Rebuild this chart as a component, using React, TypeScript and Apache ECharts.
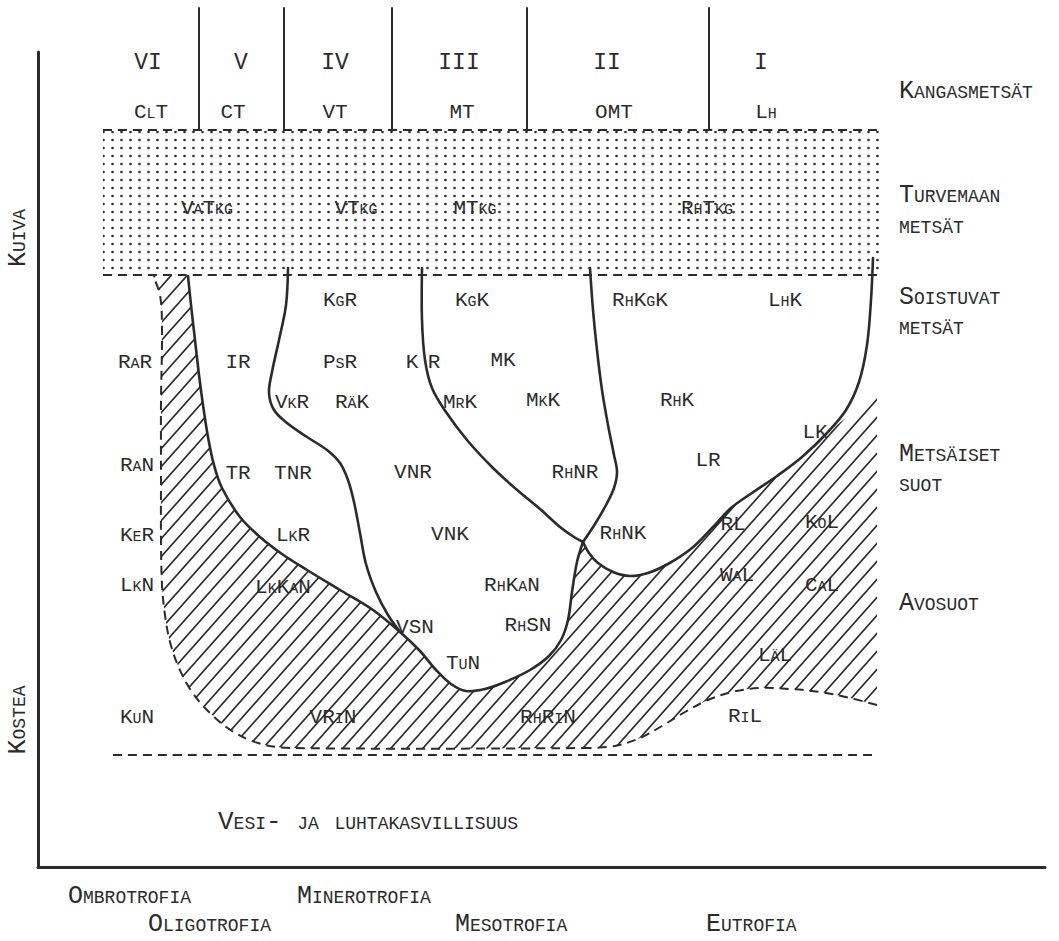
import React, { useEffect, useRef } from "react";
import * as echarts from "echarts";

type Pt = [number, number];
type Label = [string, number, number];

// ---- frame (axis extents, in drawing units) ----
const X_RANGE: Pt = [38, 1045];
const Y_RANGE: Pt = [52, 867];

// ---- forest site type columns ----
const columnDividers: number[] = [199, 284, 392, 527, 709];
const columnSpan: Pt = [8, 129];

// ---- labels ----
const romanNumerals: Label[] = [
  ["VI", 148, 63], ["V", 241, 63], ["IV", 335, 63], ["III", 459, 63], ["II", 607, 63], ["I", 761, 63],
];
const forestTypes: Label[] = [
  ["ClT", 151, 112], ["CT", 233, 112], ["VT", 335, 112], ["MT", 462, 112], ["OMT", 614, 112], ["Lh", 766, 112],
];
const peatForestTypes: Label[] = [
  ["VaTkg", 207, 208], ["VTkg", 356, 208], ["MTkg", 475, 208], ["RhTkg", 707, 208],
];
const mireTypes: Label[] = [
  ["KgR", 340, 300], ["KgK", 472, 300], ["RhKgK", 640, 300], ["LhK", 785, 300],
  ["RaR", 135, 362], ["IR", 238, 362], ["PsR", 340, 362], ["K", 412, 362], ["R", 434, 362], ["MK", 503, 360],
  ["VkR", 292, 402], ["RäK", 352, 402], ["MrK", 460, 402], ["MkK", 543, 400], ["RhK", 677, 400],
  ["LK", 815, 432], ["LR", 708, 460],
  ["RaN", 137, 465], ["TR", 238, 473], ["TNR", 293, 473], ["VNR", 413, 472], ["RhNR", 575, 472],
  ["KeR", 137, 535], ["LkR", 293, 535], ["VNK", 450, 534], ["RhNK", 623, 533], ["RL", 733, 524], ["KoL", 822, 522],
  ["LkN", 137, 585], ["LkKaN", 283, 587], ["RhKaN", 512, 585], ["WaL", 737, 575], ["CaL", 822, 585],
  ["VSN", 415, 627], ["RhSN", 528, 625],
  ["TuN", 463, 663], ["LäL", 775, 655],
  ["KuN", 137, 717], ["VRiN", 333, 717], ["RhRiN", 548, 717], ["RiL", 745, 716],
];
const zoneLabels: Label[] = [
  ["Kangasmetsät", 899, 91],
  ["Turvemaan", 899, 195], ["metsät", 899, 226],
  ["Soistuvat", 899, 297], ["metsät", 899, 327],
  ["Metsäiset", 899, 454], ["suot", 899, 484],
  ["Avosuot", 899, 603],
];
const trophyLabels: Label[] = [
  ["Ombrotrofia", 68, 896], ["Minerotrofia", 297, 896],
  ["Oligotrofia", 148, 924], ["Mesotrofia", 455, 924], ["Eutrofia", 706, 924],
];
const moistureLabels: Label[] = [["Kuiva", 18, 238], ["Kostea", 18, 720]];
const waterLabels: Label[] = [["Vesi- ja luhtakasvillisuus", 218, 822]];

// ---- boundaries ----
const dottedBand: Pt[] = [[103, 131], [879, 131], [879, 275], [103, 275]];
const bandTopLine: Pt[] = [[103, 130], [877, 130]];
const bandBottomLine: Pt[] = [[103, 275], [877, 275]];
const waterLine: Pt[] = [[113, 755], [877, 755]];

const mainBoundary: Pt[] = [
  [188, 276], [191, 305], [195, 340], [199, 375], [203, 405], [208, 437], [214, 465], [222, 488],
  [240, 517], [260, 537], [282, 554], [307, 570], [340, 590], [373, 610], [400, 632], [420, 651],
  [436, 670], [451, 684], [466, 691], [485, 689], [505, 682], [530, 670], [549, 656], [561, 640],
  [568, 620], [572, 592], [577, 562], [583, 542],
];
const lhkLower: Pt[] = [
  [583, 542], [589, 553], [598, 563], [613, 572], [630, 576], [648, 573], [668, 564], [692, 548],
  [713, 527], [731, 508], [752, 493], [777, 476], [802, 457], [827, 433],
];
const lhkUpper: Pt[] = [[827, 433], [846, 410], [859, 382], [867, 345], [871, 300], [873, 258]];
const vkrLine: Pt[] = [
  [288, 268], [286, 305], [279, 340], [272, 372], [269, 393], [274, 410], [287, 423], [307, 437],
  [327, 450], [340, 463], [348, 480], [354, 502], [360, 533], [366, 564], [376, 592], [388, 615], [400, 632],
];
const kgkLine: Pt[] = [
  [422, 268], [422, 320], [425, 360], [432, 388], [446, 412], [467, 440], [492, 467], [516, 489],
  [540, 509], [560, 527], [574, 537], [583, 542],
];
const rhkgkLine: Pt[] = [
  [590, 268], [593, 310], [597, 350], [602, 390], [608, 425], [614, 455], [617, 472], [614, 488],
  [606, 505], [595, 524], [583, 542],
];
const rilCurve: Pt[] = [
  [877, 705], [850, 698], [820, 692], [790, 689], [760, 688], [732, 692], [708, 700], [685, 712],
  [662, 726], [640, 738], [615, 746], [590, 748],
];
const leftBoundary: Pt[] = [
  [590, 748], [290, 748], [258, 743], [232, 731], [210, 713], [192, 692], [179, 668], [170, 642],
  [165, 615], [162, 585], [161, 540], [161, 470], [161, 400], [162, 330], [160, 295], [153, 276],
];
const hatchTopEdge: Pt[] = [[153, 276], [188, 276]];
const hatchCut: Pt[] = [[827, 433], [877, 393]];
const hatchRight: Pt[] = [[877, 393], [877, 705]];

const INK = "#2b2b2b";
const SMOOTH = 0.35;
const FONT_FAMILY = "'Liberation Mono', 'DejaVu Sans Mono', monospace";

function svgUrl(svg: string) {
  return "data:image/svg+xml;charset=utf-8," + encodeURIComponent(svg);
}

const dotPattern = {
  image: svgUrl(
    "<svg xmlns='http://www.w3.org/2000/svg' width='9' height='8'><circle cx='4.5' cy='4' r='1.35' fill='#2b2b2b'/></svg>"
  ),
  repeat: "repeat",
  imageWidth: 9,
  imageHeight: 8,
};
const hatchPattern = {
  image: svgUrl(
    "<svg xmlns='http://www.w3.org/2000/svg' width='16' height='18'><path d='M-2,20.25 L18,-2.25 M-2,2.25 L2,-2.25 M14,20.25 L18,15.75' stroke='#2b2b2b' stroke-width='1.7' fill='none'/></svg>"
  ),
  repeat: "repeat",
  imageWidth: 16,
  imageHeight: 18,
};

function labelSeries(labels: Label[], size: number, align: string, rotation = 0) {
  return {
    type: "custom",
    clip: false,
    silent: true,
    z: 5,
    data: labels.map((l) => [l[1], l[2]]),
    renderItem: (params: any, api: any) => {
      const l = labels[params.dataIndex];
      const p = api.coord([api.value(0), api.value(1)]);
      return {
        type: "text",
        x: p[0],
        y: p[1],
        rotation,
        style: {
          text: l[0],
          x: 0,
          y: 0,
          align,
          verticalAlign: "middle",
          font: `small-caps ${size}px ${FONT_FAMILY}`,
          fill: INK,
        },
      };
    },
  };
}

export default function App() {
  const ref = useRef<HTMLDivElement>(null);
  useEffect(() => {
    if (!ref.current) return;
    const chart = echarts.init(ref.current, undefined, { renderer: "svg" });
    const hatchOutline: Pt[] = ([] as Pt[]).concat(
      hatchTopEdge, mainBoundary, lhkLower, hatchCut, hatchRight, rilCurve, leftBoundary
    );
    const axisCommon = {
      type: "value",
      axisTick: { show: false },
      axisLabel: { show: false },
      splitLine: { show: false },
      axisLine: { show: true, onZero: false, lineStyle: { color: INK, width: 3 } },
    };
    const option: any = {
      animation: false,
      backgroundColor: "#ffffff",
      grid: { left: X_RANGE[0], right: 1059 - X_RANGE[1], top: Y_RANGE[0], bottom: 941 - Y_RANGE[1] },
      xAxis: { ...axisCommon, min: X_RANGE[0], max: X_RANGE[1] },
      yAxis: { ...axisCommon, min: Y_RANGE[0], max: Y_RANGE[1], inverse: true },
      series: [
        {
          type: "custom",
          clip: false,
          silent: true,
          z: 1,
          data: [[X_RANGE[0], Y_RANGE[0]]],
          renderItem: (_params: any, api: any) => {
            const px = (pts: Pt[]) => pts.map((p) => api.coord(p));
            return {
              type: "group",
              children: [
                { type: "polygon", shape: { points: px(dottedBand) }, style: { fill: dotPattern, stroke: "none" } },
                { type: "polygon", shape: { points: px(hatchOutline), smooth: SMOOTH }, style: { fill: hatchPattern, stroke: "none" } },
              ],
            };
          },
        },
        {
          type: "custom",
          clip: false,
          silent: true,
          z: 3,
          data: [[X_RANGE[0], Y_RANGE[0]]],
          renderItem: (_params: any, api: any) => {
            const px = (pts: Pt[]) => pts.map((p) => api.coord(p));
            const solid = (pts: Pt[], w = 2.6) => ({
              type: "polyline",
              shape: { points: px(pts), smooth: SMOOTH },
              style: { stroke: INK, lineWidth: w, fill: "none", lineJoin: "round", lineCap: "round" },
            });
            const dashed = (pts: Pt[], w = 2) => ({
              type: "polyline",
              shape: { points: px(pts), smooth: SMOOTH },
              style: { stroke: INK, lineWidth: w, fill: "none", lineDash: [9, 6] },
            });
            const dividers = columnDividers.map((x) =>
              solid([[x, columnSpan[0]], [x, columnSpan[1]]] as Pt[], 2)
            );
            return {
              type: "group",
              children: [
                ...dividers,
                dashed(bandTopLine),
                dashed(bandBottomLine),
                dashed(waterLine),
                dashed(rilCurve),
                dashed(leftBoundary),
                solid(mainBoundary),
                solid(lhkLower.concat(lhkUpper.slice(1))),
                solid(vkrLine),
                solid(kgkLine),
                solid(rhkgkLine),
              ],
            };
          },
        },
        labelSeries(romanNumerals, 23, "center"),
        labelSeries(forestTypes, 21, "center"),
        labelSeries(peatForestTypes, 21, "center"),
        labelSeries(mireTypes, 21, "center"),
        labelSeries(zoneLabels, 25, "left"),
        labelSeries(trophyLabels, 25, "left"),
        labelSeries(waterLabels, 26, "left"),
        labelSeries(moistureLabels, 25, "center", Math.PI / 2),
      ],
    };
    chart.setOption(option);
    return () => chart.dispose();
  }, []);
  return (
    <div
      ref={ref}
      style={{ position: "fixed", left: 0, top: 0, width: 1059, height: 941, background: "#fff" }}
    />
  );
}
